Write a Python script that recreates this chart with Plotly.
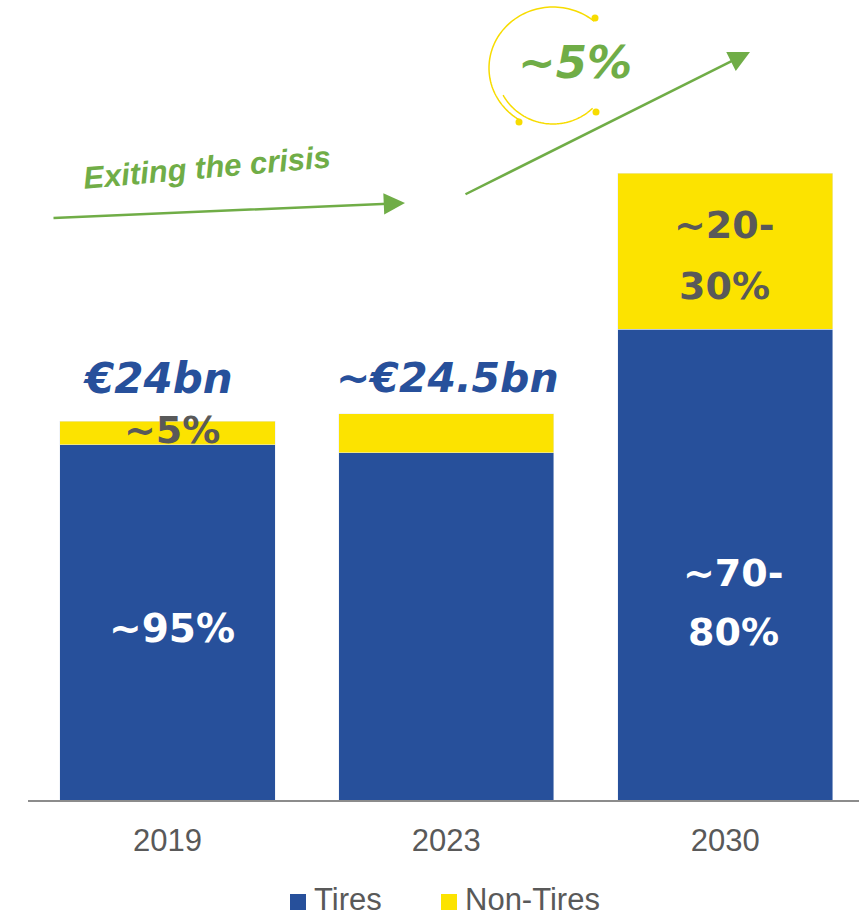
import numpy as np
import plotly.graph_objects as go

# ---- data ----
years = ["2019", "2023", "2030"]
tires = [22.5, 22.0, 29.8]          # height of Tires segment (≈ €bn scale)
non_tires = [1.5, 2.45, 9.9]        # height of Non-Tires segment
series_names = ["Tires", "Non-Tires"]

BLUE = "#27509B"
YELLOW = "#FCE300"
GREEN = "#70AD47"
GREY = "#595959"
FONT = "Liberation Sans"
HEAVY = "DejaVu Sans"

W, H = 859, 919
L, R, T, B = 28, 0, 0, 119
PW, PH = W - L - R, H - T - B


def px(x):
    return (x - L) / PW


def py(y):
    return (H - B - y) / PH


fig = go.Figure()
fig.add_trace(go.Bar(x=years, y=tires, name=series_names[0], marker_color=BLUE, showlegend=False))
fig.add_trace(go.Bar(x=years, y=non_tires, name=series_names[1], marker_color=YELLOW, showlegend=False))

ann = []


def label(x, y, text, size, color, family=HEAVY, angle=0, xanchor="center"):
    ann.append(dict(xref="paper", yref="paper", x=px(x), y=py(y), text=text, textangle=angle,
                    showarrow=False, xanchor=xanchor, yanchor="middle",
                    font=dict(size=size, color=color, family=family)))


label(158, 378, "<b><i>€24bn</i></b>", 42, BLUE)
label(447, 378, "<b><i>~€24.5bn</i></b>", 41, BLUE)
label(172, 430, "<b>~5%</b>", 38, GREY)
label(172, 628, "<b>~95%</b>", 39, "white")
label(733, 573, "<b>~70-</b>", 38, "white")
label(733, 632, "<b>80%</b>", 38, "white")
label(724, 225, "<b>~20-</b>", 38, GREY)
label(724, 286, "<b>30%</b>", 38, GREY)
label(575, 62, "<b><i>~5%</i></b>", 45, GREEN)
label(207, 168, "<b><i>Exiting the crisis</i></b>", 31, GREEN, family=FONT, angle=-5)

# arrows
for (x0, y0, x1, y1) in [(52, 218, 405, 203), (464, 195, 750, 52)]:
    ann.append(dict(xref="paper", yref="paper", x=px(x1), y=py(y1), ax=x0 - x1, ay=y0 - y1,
                    text="", showarrow=True, arrowhead=2, arrowsize=1.7, arrowwidth=2.5,
                    arrowcolor=GREEN, standoff=0))

shapes = []
cx, cy = 553, 68


def arc_path(rx, ry, a0, a1):
    t = np.radians(np.linspace(a0, a1, 80))
    xs = cx + rx * np.cos(t)
    ys = cy + ry * np.sin(t)
    return "M " + " L ".join(f"{px(a):.5f},{py(b):.5f}" for a, b in zip(xs, ys))


shapes.append(dict(type="path", xref="paper", yref="paper", path=arc_path(64, 61, -50, -238),
                   line=dict(color="#F7DC00", width=1.5)))
shapes.append(dict(type="path", xref="paper", yref="paper", path=arc_path(57, 56, 151, 46),
                   line=dict(color="#F7DC00", width=1.5)))
for (dx, dy) in [(595, 18), (519, 122), (596, 112)]:
    shapes.append(dict(type="circle", xref="paper", yref="paper",
                       x0=px(dx - 3.5), x1=px(dx + 3.5), y0=py(dy - 3.5), y1=py(dy + 3.5),
                       fillcolor="#F7DC00", line=dict(width=0)))

# legend (drawn manually to match the reference's large swatches)
for (sx, col, name) in [(290, BLUE, series_names[0]), (441, YELLOW, series_names[1])]:
    shapes.append(dict(type="rect", xref="paper", yref="paper",
                       x0=px(sx), x1=px(sx + 16), y0=py(894), y1=py(910),
                       fillcolor=col, line=dict(width=0)))
    label(sx + 22, 899, name, 31, GREY, family=FONT, xanchor="left")

fig.update_layout(
    barmode="stack",
    bargap=0.228,
    width=W, height=H,
    margin=dict(l=L, r=R, t=T, b=B, autoexpand=False),
    plot_bgcolor="white", paper_bgcolor="white",
    font=dict(family=FONT, color=GREY),
    annotations=ann,
    shapes=shapes,
    showlegend=False,
    xaxis=dict(showline=True, linecolor="#8C8C8C", linewidth=2, showgrid=False,
               tickfont=dict(size=31, color=GREY, family=FONT), ticks="outside",
               ticklen=12, tickcolor="rgba(0,0,0,0)", range=[-0.5, 2.48]),
    yaxis=dict(visible=False, range=[0, 50.66]),
)

fig.write_html("out.html", config={"displayModeBar": False},
               post_script="document.body.style.margin='0';")
